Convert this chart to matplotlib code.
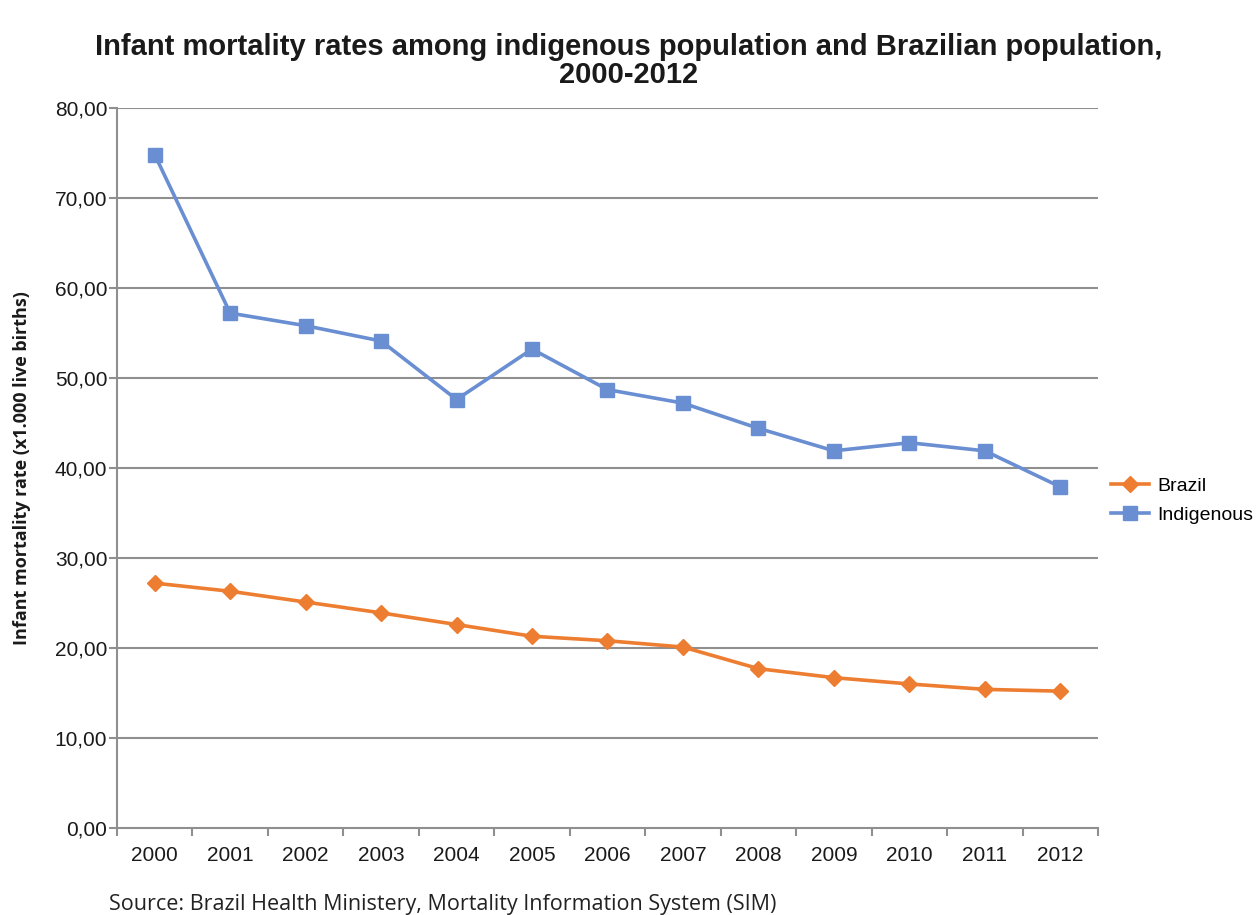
import matplotlib.pyplot as plt
import numpy as np

years = ["2000", "2001", "2002", "2003", "2004", "2005", "2006",
         "2007", "2008", "2009", "2010", "2011", "2012"]
brazil = [27.2, 26.3, 25.1, 23.9, 22.6, 21.3, 20.8, 20.1, 17.7, 16.7, 16.0, 15.4, 15.2]
indigenous = [74.8, 57.2, 55.8, 54.1, 47.6, 53.2, 48.7, 47.2, 44.4, 41.9, 42.8, 41.9, 37.9]
y_ticks = [0, 10, 20, 30, 40, 50, 60, 70, 80]

plt.rcParams["font.family"] = ["Liberation Sans", "DejaVu Sans"]

fig = plt.figure(figsize=(12.58, 9.15), dpi=100)
ax = fig.add_axes([0.093, 0.0951, 0.7798, 0.787])

x = np.arange(len(years))
grid_col = "#8f8f8f"
txt_col = "#1a1a1a"

ax.plot(x, brazil, color="#ED7D31", lw=2.6, marker="D", ms=8,
        label="Brazil", zorder=3)
ax.plot(x, indigenous, color="#6A8ED2", lw=2.6, marker="s", ms=10,
        label="Indigenous", zorder=3)

ax.set_xlim(-0.5, len(years) - 0.5)
ax.set_ylim(0, 80)
ax.set_yticks(y_ticks)
ax.set_yticklabels([f"{v:.2f}".replace(".", ",") for v in y_ticks],
                   fontsize=15, color=txt_col)
ax.set_xticks(x)
ax.set_xticklabels(years, fontsize=15, color=txt_col)
ax.tick_params(axis="x", length=0, pad=13)
ax.set_xticks(np.arange(len(years) + 1) - 0.5, minor=True)
ax.tick_params(axis="x", which="minor", length=6, width=1.5, color=grid_col)
ax.tick_params(axis="y", length=6, width=1.5, color=grid_col, pad=1)

for v in y_ticks[1:]:
    ax.axhline(v, color=grid_col, lw=1.5, zorder=1)

for side in ["top", "right"]:
    ax.spines[side].set_visible(False)
for side in ["left", "bottom"]:
    ax.spines[side].set_color(grid_col)
    ax.spines[side].set_linewidth(1.5)

ax.set_ylabel("Infant mortality rate (x1.000 live births)", fontsize=13,
              fontweight="bold", family="Open Sans", color=txt_col, labelpad=17)

fig.suptitle("Infant mortality rates among indigenous population and Brazilian population,\n2000-2012",
             fontsize=21, fontweight="bold", y=0.964, x=0.5,
             linespacing=1.0, color=txt_col)

ax.legend(loc="center left", bbox_to_anchor=(0.995, 0.455), frameon=False,
          fontsize=14, handlelength=2.0, handletextpad=0.4, labelspacing=0.6)

fig.text(0.087, 0.0, "Source: Brazil Health Ministery, Mortality Information System (SIM)",
         fontsize=15.5, family="Open Sans", color="#222222", va="bottom")

fig.savefig("out.png", dpi=100)
